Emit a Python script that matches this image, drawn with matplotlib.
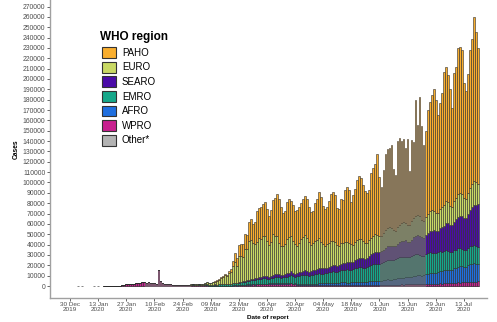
import numpy as np
import pandas as pd
import matplotlib
matplotlib.use("Agg")
import matplotlib.pyplot as plt
import matplotlib.dates as mdates
from matplotlib.patches import Patch

plt.rcParams['font.family'] = ['Liberation Sans', 'DejaVu Sans']

# daily new cases by WHO region, in thousands, reports 16 Jan - 20 Jul 2020
report_dates = pd.date_range("2020-01-16", "2020-07-20")
# early days with a report of zero cases
zero_dates = pd.to_datetime(["2020-01-03", "2020-01-05", "2020-01-11", "2020-01-13"])

wpro = ([0.004, 0.017, 0.136, 0.019, 0.151, 0.14, 0.131, 0.259, 0.444, 0.688, 0.769, 1.771, 1.459, 1.737, 1.982, 2.102]
        + [2.59, 2.83, 3.24, 3.89, 3.70, 3.15, 3.40, 2.66, 2.98, 2.48, 2.03, 15.15, 5.10, 2.66, 2.03, 2.07, 1.90, 1.77, 0.85, 0.95,
           0.55, 0.85, 0.75, 0.75, 0.65, 0.75, 0.85, 1.0, 1.2]
        + [0.85, 0.7, 0.75, 0.65, 0.55, 0.65, 0.55, 0.45, 0.35, 0.3, 0.3, 0.25, 0.25, 0.2, 0.2, 0.2, 0.25, 0.3, 0.3, 0.4,
           0.5, 0.45, 0.7, 0.75, 1.0, 0.9, 1.2, 1.1, 1.3, 1.5, 1.4]
        + [1.5, 1.6, 1.7, 1.8, 1.8, 1.9, 1.9, 2.0, 2.0, 2.1, 2.1, 2.0, 1.9, 2.0, 1.9, 1.8, 1.7, 2.5, 1.6, 1.5,
           1.4, 1.3, 1.2, 1.2, 1.1, 1.0, 1.0, 0.9, 0.9, 0.9]
        + [0.8, 0.9, 0.8, 0.7, 0.8, 0.9, 0.8, 0.9, 1.0, 0.9, 0.8, 1.0, 1.1, 1.0, 0.9, 0.8, 0.9, 0.8, 0.7, 0.8,
           0.9, 0.8, 0.8, 0.7, 0.6, 0.7, 0.8, 0.8, 0.9, 0.9, 0.9]
        + [0.9, 1.0, 0.9, 1.1, 1.2, 1.1, 1.3, 1.2, 1.3, 1.4, 1.3, 1.5, 1.4, 1.6, 1.5, 1.7, 1.6, 1.8, 1.7, 1.9,
           1.8, 2.0, 1.9, 2.1, 2.0, 2.2, 2.1, 2.3, 2.2, 2.4]
        + [2.5, 2.4, 2.7, 2.6, 2.9, 3.1, 2.8, 3.2, 3.0, 3.4, 3.3, 3.7, 3.5, 3.4, 3.9, 4.1, 3.8, 4.3, 4.0, 4.5])

other = ([0] * 16
         + [0, 0, 0, 0, 0.01, 0.04, 0.02, 0.0, 0.06, 0.07, 0.04, 0.04, 0.05, 0.07, 0.07, 0.1, 0.09, 0.08, 0.1, 0.03,
            0, 0, 0, 0, 0, 0, 0, 0, 0]
         + [0] * (31 + 30 + 31 + 30 + 20))

euro = ([0] * 16
        + [0] * 21 + [0.02, 0.08, 0.1, 0.1, 0.1, 0.2, 0.25, 0.35]
        + [0.4, 0.55, 0.5, 0.75, 0.85, 1.1, 1.7, 1.6, 1.9, 2.3, 2.7, 3.7, 4.5, 6.1, 6.8, 8.6, 7.3, 10.1, 11.2, 16.3,
           20.2, 16.4, 25.1, 24.3, 23.8, 30.4, 29.8, 37.2, 38.1, 34.3, 33.1]
        + [35.2, 37.8, 36.9, 39.1, 38.4, 34.2, 30.5, 32.6, 39.8, 37.2, 36.1, 30.4, 28.1, 27.5, 28.9, 33.2, 34.6, 33.8, 31.1, 28.2,
           26.4, 28.7, 31.5, 33.1, 33.9, 32.1, 28.6, 25.2, 26.4, 27.8]
        + [27.9, 28.6, 25.4, 22.8, 21.6, 22.9, 23.4, 24.2, 22.8, 22.1, 19.6, 18.9, 20.1, 19.3, 19.8, 19.1, 18.4, 16.9, 15.8, 17.2,
           17.9, 18.3, 18.1, 16.8, 15.1, 14.4, 15.6, 16.3, 17.1, 17.6, 16.2]
        + [15.4, 14.7, 16.1, 17.3, 18.2, 17.9, 16.8, 15.2, 14.3, 16.6, 17.1, 17.9, 18.4, 17.3, 16.2, 15.8, 17.9, 18.3, 19.2, 19.8,
           18.6, 16.9, 16.1, 17.8, 18.5, 19.4, 20.3, 19.1, 17.5, 16.8]
        + [18.9, 19.6, 20.4, 21.1, 20.2, 18.3, 17.6, 19.8, 20.7, 21.5, 21.9, 20.6, 18.8, 18.1, 20.3, 21.4, 22.1, 22.8, 21.7, 19.6])

emro = ([0] * 16
        + [0] * 19 + [0.01, 0.03, 0.05, 0.05, 0.1, 0.08, 0.12, 0.18, 0.22, 0.45]
        + [0.55, 0.6, 0.85, 0.6, 0.6, 1.2, 1.1, 0.75, 0.65, 0.9, 1.1, 1.05, 1.3, 1.4, 1.5, 1.3, 1.4, 1.5, 1.7, 1.9,
           2.0, 1.9, 2.3, 2.6, 2.7, 3.1, 3.4, 3.6, 3.7, 3.8, 4.1]
        + [4.3, 4.6, 4.4, 4.9, 5.1, 4.8, 4.5, 4.9, 5.3, 5.6, 5.9, 5.7, 5.4, 5.6, 6.1, 6.4, 6.8, 7.1, 7.0, 6.6,
           6.9, 7.4, 7.8, 8.2, 8.5, 8.1, 7.9, 8.3, 8.8, 9.1]
        + [9.4, 9.8, 9.5, 9.1, 9.6, 10.2, 10.5, 10.9, 11.3, 10.8, 10.4, 10.9, 11.6, 12.1, 12.4, 12.8, 12.3, 11.9, 12.6, 13.4,
           13.9, 14.5, 14.1, 13.6, 13.2, 14.4, 15.1, 15.8, 16.3, 16.9, 16.4]
        + [16.1, 16.8, 17.6, 18.3, 18.9, 19.4, 18.7, 18.2, 19.1, 19.8, 20.4, 20.9, 20.3, 19.8, 19.1, 19.6, 20.3, 20.8, 21.2, 20.6,
           19.9, 19.3, 18.8, 19.4, 19.9, 20.2, 19.6, 19.1, 18.5, 18.9]
        + [19.3, 18.8, 18.2, 18.6, 17.9, 17.3, 16.9, 17.4, 17.8, 18.1, 17.6, 17.0, 16.5, 16.1, 16.6, 17.2, 17.5, 17.1, 16.8, 16.3])

searo = ([0] * 16 + [0] * 29
         + [0.0, 0.0, 0.01, 0.02, 0.02, 0.02, 0.03, 0.03, 0.05, 0.05, 0.06, 0.06, 0.08, 0.1, 0.12, 0.12, 0.15, 0.2, 0.25, 0.3,
            0.35, 0.45, 0.5, 0.6, 0.7, 0.8, 0.9, 1.0, 1.1, 1.2, 1.3]
         + [1.4, 1.6, 1.9, 2.1, 2.3, 2.2, 2.0, 2.4, 2.6, 2.9, 3.1, 3.0, 2.8, 2.7, 3.0, 3.3, 3.4, 3.6, 3.2, 3.0,
            3.3, 3.5, 3.8, 4.0, 4.2, 4.1, 3.9, 3.7, 4.0, 4.4]
         + [4.6, 4.9, 5.2, 5.8, 5.1, 4.7, 5.3, 5.6, 5.9, 6.2, 6.5, 6.1, 5.9, 6.4, 6.8, 7.2, 7.6, 7.9, 7.3, 7.8,
            8.3, 8.7, 9.2, 9.6, 9.3, 8.9, 9.5, 10.1, 10.6, 11.2, 11.5]
         + [11.9, 11.4, 11.7, 12.4, 13.1, 13.6, 14.2, 13.8, 13.1, 13.6, 14.3, 14.9, 15.4, 15.8, 15.2, 14.6, 15.4, 16.7, 17.5, 18.1,
            18.6, 17.9, 17.2, 18.4, 19.6, 20.3, 21.4, 22.1, 21.5, 20.8]
         + [22.4, 23.6, 24.8, 26.3, 27.1, 26.4, 25.7, 27.8, 29.1, 30.4, 31.2, 32.0, 31.1, 30.6, 32.9, 35.4, 37.6, 39.1, 40.2, 41.3])

afro = ([0] * 16 + [0] * 29
        + [0, 0, 0, 0, 0, 0.01, 0.01, 0.01, 0.01, 0.02, 0.02, 0.03, 0.04, 0.05, 0.06, 0.08, 0.1, 0.12, 0.15, 0.18,
           0.2, 0.22, 0.25, 0.28, 0.3, 0.32, 0.35, 0.38, 0.4, 0.42, 0.45]
        + [0.5, 0.55, 0.5, 0.6, 0.55, 0.5, 0.6, 0.65, 0.7, 0.75, 0.7, 0.65, 0.6, 0.7, 0.8, 0.85, 0.9, 0.85, 0.8, 0.95,
           1.0, 1.1, 1.15, 1.2, 1.3, 1.25, 1.2, 1.35, 1.4, 1.5]
        + [1.6, 1.7, 1.65, 1.8, 1.9, 1.85, 2.0, 2.1, 2.2, 2.1, 2.0, 2.2, 2.4, 2.5, 2.6, 2.5, 2.4, 2.6, 2.8, 2.9,
           3.0, 3.1, 3.0, 2.9, 3.2, 3.4, 3.6, 3.8, 3.7, 3.9, 4.1]
        + [4.3, 4.2, 4.5, 4.8, 5.1, 5.0, 4.9, 5.3, 5.6, 5.9, 6.2, 6.0, 6.4, 6.8, 7.1, 6.9, 7.4, 7.8, 8.2, 8.6,
           8.4, 8.1, 8.7, 9.2, 9.6, 10.1, 10.4, 10.2, 10.8, 11.3]
        + [11.6, 12.1, 12.6, 13.2, 12.8, 12.4, 13.1, 13.8, 14.4, 15.1, 15.6, 15.2, 14.7, 15.4, 16.2, 16.9, 17.5, 18.1, 17.6, 17.2])

paho = ([0] * 16 + [0] * 29
        + [0.02, 0.02, 0.03, 0.05, 0.05, 0.1, 0.1, 0.1, 0.2, 0.2, 0.3, 0.4, 0.6, 0.8, 1.0, 1.5, 1.5, 2.5, 3.0, 5.5,
           8.5, 7.5, 10.5, 12.0, 12.5, 14.5, 14.0, 19.0, 20.5, 19.0, 21.0]
        + [29.1, 28.9, 30.6, 30.5, 32.9, 30.4, 28.5, 30.5, 32.6, 36.5, 41.1, 42.3, 37.2, 32.5, 31.3, 35.5, 36.6, 34.2, 34.3, 31.8,
           34.0, 34.0, 34.6, 36.3, 38.0, 37.5, 33.4, 31.6, 30.5, 36.3]
        + [39.7, 45.2, 43.5, 36.7, 35.0, 35.6, 40.0, 45.3, 47.9, 45.9, 35.6, 34.9, 43.0, 41.7, 50.5, 53.6, 51.5, 40.9, 48.7, 51.9,
           58.1, 60.6, 58.8, 54.4, 50.5, 48.2, 48.5, 62.2, 65.5, 67.5, 78.9]
        + [56.4, 47.9, 61.1, 74.1, 75.6, 75.9, 80.2, 59.3, 53.6, 82.8, 83.6, 78.9, 80.0, 71.8, 82.8, 52.5, 78.3, 73.7, 112.1, 86.1,
           115.6, 89.9, 73.2, 83.2, 100.3, 105.9, 111.1, 117.3, 109.4, 94.8]
        + [102.3, 109.5, 128.3, 130.2, 123.1, 112.5, 95.9, 124.0, 127.0, 141.5, 141.4, 139.5, 111.4, 104.4, 115.1, 133.0, 140.5, 158.6, 144.7, 131.1])

# bottom to top of the stack
regions = ["Other*", "WPRO", "AFRO", "EMRO", "SEARO", "EURO", "PAHO"]
series = [other, wpro, afro, emro, searo, euro, paho]
colors = ["#B3B3B3", "#C8208F", "#1F6FDF", "#15A88A", "#4A0BA8", "#C9D964", "#F9AE2E"]

fig = plt.figure(figsize=(4.97, 3.22), dpi=100)
ax = fig.add_axes([0.1006, 0.0745, 0.879, 0.9255])

x = mdates.date2num(report_dates)
bottom = np.zeros(len(x))
for name, vals, col in zip(regions, series, colors):
    v = np.array(vals, dtype=float) * 1000
    ax.bar(x, v, bottom=bottom, width=0.9, color=col, edgecolor="#2b2b2b", linewidth=0.4)
    bottom += v
ax.bar(mdates.date2num(zero_dates), np.zeros(len(zero_dates)), width=0.9,
       color="#B3B3B3", edgecolor="#555555", linewidth=0.5)

ticks = pd.date_range("2019-12-30", "2020-07-13", freq="14D")
ax.set_xticks(mdates.date2num(ticks))
ax.set_xticklabels([d.strftime("%d %b\n%Y") for d in ticks], linespacing=0.95)
ax.set_xlim(mdates.date2num(pd.Timestamp("2019-12-20")), mdates.date2num(pd.Timestamp("2020-07-24 12:00")))

ax.set_yticks(np.arange(0, 270001, 10000))
ax.set_yticklabels([str(v) for v in range(0, 270001, 10000)])
ax.set_ylim(-11600, 276300)

ax.tick_params(axis="y", labelsize=4.9, colors="#4d4d4d", length=2.2, width=0.6, pad=1.2)
ax.tick_params(axis="x", labelsize=4.6, colors="#4d4d4d", length=2.0, width=0.6, pad=0.8)
for s in ["top", "right"]:
    ax.spines[s].set_visible(False)
for s in ["left", "bottom"]:
    ax.spines[s].set_color("#a0a0a0")
    ax.spines[s].set_linewidth(1.0)

fig.text(268 / 497, 1 - 318 / 322, "Date of report", fontsize=4.6, fontweight="bold",
         ha="center", va="center")
ax.set_ylabel("Cases", fontsize=4.8, fontweight="bold", labelpad=2)

legend_order = ["PAHO", "EURO", "SEARO", "EMRO", "AFRO", "WPRO", "Other*"]
handles = [Patch(facecolor=colors[regions.index(r)], edgecolor="#333333", linewidth=0.8) for r in legend_order]
fig.text(100 / 497, 1 - 37 / 322, "WHO region", fontsize=8.5, fontweight="bold", ha="left", va="center")
leg = ax.legend(handles, legend_order, loc="upper left",
                bbox_to_anchor=(0.119, 0.842), frameon=False, fontsize=7,
                handlelength=1.45, handleheight=1.35, labelspacing=0.38,
                handletextpad=0.6, borderpad=0, borderaxespad=0)

fig.savefig("out.png", dpi=100)
